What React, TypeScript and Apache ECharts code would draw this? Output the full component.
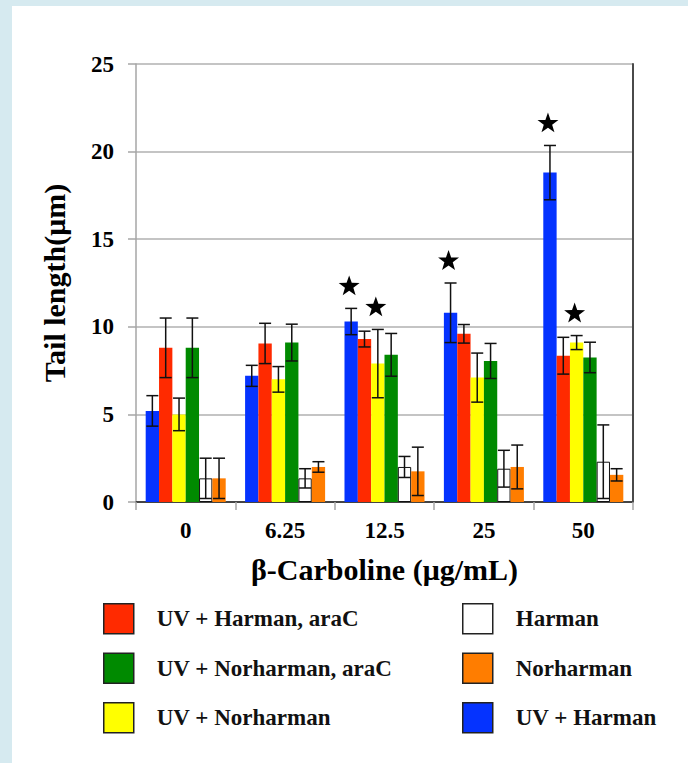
import React, { useEffect, useRef } from "react";
import * as echarts from "echarts";

const categories = ["0", "6.25", "12.5", "25", "50"];
const yTicks = [0, 5, 10, 15, 20, 25];

const seriesNames = [
  "UV + Harman",
  "UV + Harman, araC",
  "UV + Norharman",
  "UV + Norharman, araC",
  "Harman",
  "Norharman",
];
const seriesColors = ["#0533ff", "#ff2a00", "#ffff00", "#008a00", "#ffffff", "#ff7d00"];

const uvHarman = [5.2, 7.2, 10.3, 10.8, 18.8];
const uvHarmanErr = [0.87, 0.6, 0.75, 1.7, 1.55];
const uvHarmanStar = [0, 0, 1, 1, 1];

const uvHarmanAraC = [8.8, 9.05, 9.3, 9.6, 8.35];
const uvHarmanAraCErr = [1.7, 1.15, 0.45, 0.53, 1.05];
const uvHarmanAraCStar = [0, 0, 0, 0, 0];

const uvNorharman = [5.0, 7.0, 7.9, 7.1, 9.1];
const uvNorharmanErr = [0.93, 0.73, 1.95, 1.4, 0.4];
const uvNorharmanStar = [0, 0, 1, 0, 1];

const uvNorharmanAraC = [8.8, 9.1, 8.4, 8.05, 8.25];
const uvNorharmanAraCErr = [1.7, 1.05, 1.22, 1.0, 0.87];
const uvNorharmanAraCStar = [0, 0, 0, 0, 0];

const harman = [1.35, 1.35, 2.0, 1.9, 2.3];
const harmanErr = [1.15, 0.55, 0.6, 1.05, 2.1];
const harmanStar = [0, 0, 0, 0, 0];

const norharman = [1.35, 2.0, 1.75, 2.0, 1.55];
const norharmanErr = [1.15, 0.3, 1.38, 1.25, 0.35];
const norharmanStar = [0, 0, 0, 0, 0];

const legendLeft = ["UV + Harman, araC", "UV + Norharman, araC", "UV + Norharman"];
const legendRight = ["Harman", "Norharman", "UV + Harman"];

const allValues = [uvHarman, uvHarmanAraC, uvNorharman, uvNorharmanAraC, harman, norharman];
const allErrs = [uvHarmanErr, uvHarmanAraCErr, uvNorharmanErr, uvNorharmanAraCErr, harmanErr, norharmanErr];
const allStars = [uvHarmanStar, uvHarmanAraCStar, uvNorharmanStar, uvNorharmanAraCStar, harmanStar, norharmanStar];

const GAP = 0.195;
const N = 6;
const FONT = "'Liberation Serif', 'Times New Roman', serif";

function starPoints(cx: number, cy: number, R: number, r: number) {
  const pts: number[][] = [];
  for (let k = 0; k < 10; k++) {
    const a = -Math.PI / 2 + (k * Math.PI) / 5;
    const rad = k % 2 === 0 ? R : r;
    pts.push([cx + rad * Math.cos(a), cy + rad * Math.sin(a)]);
  }
  return pts;
}

function makeRender(idx: number) {
  return (params: any, api: any) => {
    const cat = api.value(0);
    const mean = api.value(1);
    const err = api.value(2);
    const star = api.value(3);
    const band = api.size([1, 0])[0];
    const bw = (band * (1 - GAP)) / N;
    const base = api.coord([cat, mean]);
    const cx = base[0] - (N * bw) / 2 + (idx + 0.5) * bw;
    const yTop = api.coord([cat, mean + err])[1];
    const yBot = api.coord([cat, mean - err])[1];
    const half = bw * 0.45;
    const st = { stroke: "#111", lineWidth: 1.5 };
    const children: any[] = [
      { type: "line", shape: { x1: cx, y1: yTop, x2: cx, y2: yBot }, style: st },
      { type: "line", shape: { x1: cx - half, y1: yTop, x2: cx + half, y2: yTop }, style: st },
      { type: "line", shape: { x1: cx - half, y1: yBot, x2: cx + half, y2: yBot }, style: st },
    ];
    if (star) {
      children.push({
        type: "polygon",
        shape: { points: starPoints(cx - 2, yTop - 22, 11, 4.4) },
        style: { fill: "#000" },
      });
    }
    return { type: "group", children };
  };
}

export default function App() {
  const ref = useRef<HTMLDivElement>(null);
  useEffect(() => {
    if (!ref.current) return;
    const chart = echarts.init(ref.current, undefined, { renderer: "svg" });
    const barSeries = seriesNames.map((name, i) => ({
      name,
      type: "bar",
      xAxisIndex: 0,
      yAxisIndex: 0,
      data: allValues[i],
      barGap: "0%",
      barCategoryGap: "19.5%",
      itemStyle:
        i === 4
          ? { color: seriesColors[i], borderColor: "#111", borderWidth: 1 }
          : { color: seriesColors[i] },
    }));
    const errSeries = seriesNames.map((name, i) => ({
      type: "custom",
      name: name + " error",
      xAxisIndex: 0,
      yAxisIndex: 0,
      z: 5,
      renderItem: makeRender(i),
      data: categories.map((c, j) => [j, allValues[i][j], allErrs[i][j], allStars[i][j]]),
    }));
    const legendCommon = {
      orient: "vertical",
      icon: "rect",
      itemWidth: 30,
      itemHeight: 30,
      itemGap: 18,
      padding: 0,
      selectedMode: false,
      itemStyle: { borderColor: "#222", borderWidth: 1.5 },
      textStyle: {
        fontFamily: FONT,
        fontWeight: "bold",
        fontSize: 23,
        color: "#111",
        padding: [4, 0, 0, 18],
      },
    };
    chart.setOption({
      animation: false,
      backgroundColor: "#ffffff",
      grid: { left: 124, top: 58, right: 55, bottom: 261, containLabel: false },
      legend: [
        { ...legendCommon, left: 91, top: 597, data: legendLeft },
        { ...legendCommon, left: 450, top: 597, data: legendRight },
      ],
      xAxis: [
        {
          type: "category",
          data: categories,
          axisLine: { show: true, lineStyle: { color: "#a6a6a6", width: 1.5 } },
          axisTick: { show: true, length: 8, lineStyle: { color: "#a6a6a6", width: 1.5 } },
          axisLabel: {
            margin: 17,
            fontFamily: FONT,
            fontWeight: "bold",
            fontSize: 23,
            color: "#000",
          },
          name: "β-Carboline (μg/mL)",
          nameLocation: "middle",
          nameGap: 52,
          nameTextStyle: { fontFamily: FONT, fontWeight: "bold", fontSize: 30, color: "#000" },
        },
        {
          type: "category",
          data: categories,
          position: "top",
          axisLine: { show: true, lineStyle: { color: "#444", width: 2 } },
          axisTick: { show: false },
          axisLabel: { show: false },
          splitLine: { show: false },
        },
      ],
      yAxis: [
        {
          type: "value",
          min: yTicks[0],
          max: yTicks[yTicks.length - 1],
          interval: yTicks[1] - yTicks[0],
          axisLine: { show: true, lineStyle: { color: "#a6a6a6", width: 1.5 } },
          axisTick: { show: true, length: 8, lineStyle: { color: "#a6a6a6", width: 1.5 } },
          splitLine: { show: true, lineStyle: { color: "#b0b0b0", width: 1.5 } },
          axisLabel: {
            margin: 22,
            fontFamily: FONT,
            fontWeight: "bold",
            fontSize: 23,
            color: "#000",
          },
          name: "Tail length(μm)",
          nameLocation: "middle",
          nameGap: 67,
          nameTextStyle: { fontFamily: FONT, fontWeight: "bold", fontSize: 30, color: "#000" },
        },
        {
          type: "value",
          min: yTicks[0],
          max: yTicks[yTicks.length - 1],
          interval: yTicks[1] - yTicks[0],
          position: "right",
          axisLine: { show: true, lineStyle: { color: "#4a4a4a", width: 2 } },
          axisTick: { show: false },
          axisLabel: { show: false },
          splitLine: { show: false },
        },
      ],
      series: [...barSeries, ...errSeries],
    });
    return () => chart.dispose();
  }, []);
  return (
    <div
      style={{
        position: "fixed",
        left: 0,
        top: 0,
        width: 688,
        height: 763,
        background: "#d6eaf0",
      }}
    >
      <div
        ref={ref}
        style={{ position: "absolute", left: 12, top: 6, width: 676, height: 757 }}
      />
    </div>
  );
}
